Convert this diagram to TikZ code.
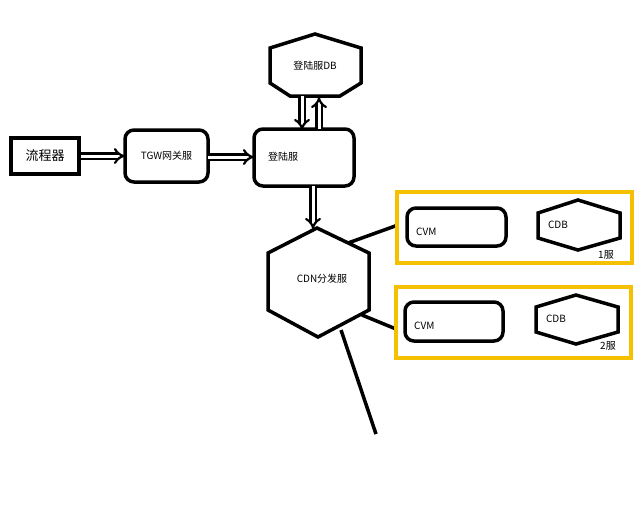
\documentclass[tikz,border=0pt]{standalone}
\usepackage{fontspec}
\setmainfont{Noto Sans CJK SC}
\usetikzlibrary{arrows.meta}
\begin{document}
\begin{tikzpicture}[x=1pt,y=-1pt,
  bx/.style={draw,line width=3.5pt,rounded corners=9pt},
  hx/.style={draw,line width=3.5pt,line join=miter},
  yb/.style={draw=yellowb,line width=3.5pt},
  ln/.style={line width=3.5pt},
  dar/.style={double=white,double distance=3pt,line width=2.2pt,-{Implies}},
  lb/.style={font=\fontsize{10}{12}\selectfont,inner sep=0pt}]
\definecolor{yellowb}{HTML}{F5C000}
\useasboundingbox (0,0) rectangle (634,512);
% nodes
\node[draw,line width=4pt,minimum width=68pt,minimum height=36pt,font=\fontsize{13}{15}\selectfont] (lc) at (45,156) {流程器};
\draw[bx] (125,130) rectangle (208,182);
\node[lb] (tgw) at (166.5,156) {TGW网关服};
\coordinate (tgwW) at (125,156); \coordinate (tgwE) at (208,157);
\draw[bx] (254,129) rectangle (354,186);
\node[lb,anchor=west] (dl) at (268,157) {登陆服};
\coordinate (dlW) at (254,157);
\draw[hx] (315,34)--(361,48)--(361,83)--(340,96)--(290,96)--(270,83)--(270,48)--cycle;
\node[lb] (db) at (315,66) {登陆服DB};
\draw[hx] (317,228)--(369,253)--(369,310)--(318,337)--(268,310)--(268,253)--cycle;
\node[lb] (cdn) at (322,279) {CDN分发服};
% arrows
\draw[dar] (lc.east) ++(0,0) -- (tgwW);
\draw[dar] (tgwE) -- (dlW);
\draw[dar] (302,96) -- (302,130);
\draw[dar] (319,129) -- (319,97);
\draw[dar] (313,186) -- (313,229);
% lines
\draw[ln] (348,243) -- (398,225);
\draw[ln] (362,315) -- (396,329);
\draw[ln] (341,330) -- (376,434);
% boxes
\draw[yb] (397,192) rectangle (632,263);
\draw[yb] (396,287) rectangle (631,358);
\draw[bx] (407,208) rectangle (506,246);
\node[lb,anchor=west] (cvm1) at (416,232) {CVM};
\draw[hx] (578,200)--(620,213)--(620,238)--(578,250)--(538,238)--(538,213)--cycle;
\node[lb] (cdb1) at (558,225) {CDB};
\node[lb] (s1) at (606,255) {1服};
\draw[bx] (405,302) rectangle (503,341);
\node[lb,anchor=west] (cvm2) at (414,326) {CVM};
\draw[hx] (576,295)--(618,307)--(618,332)--(576,344)--(536,332)--(536,307)--cycle;
\node[lb] (cdb2) at (556,319) {CDB};
\node[lb] (s2) at (608,346) {2服};
\end{tikzpicture}
\end{document}
